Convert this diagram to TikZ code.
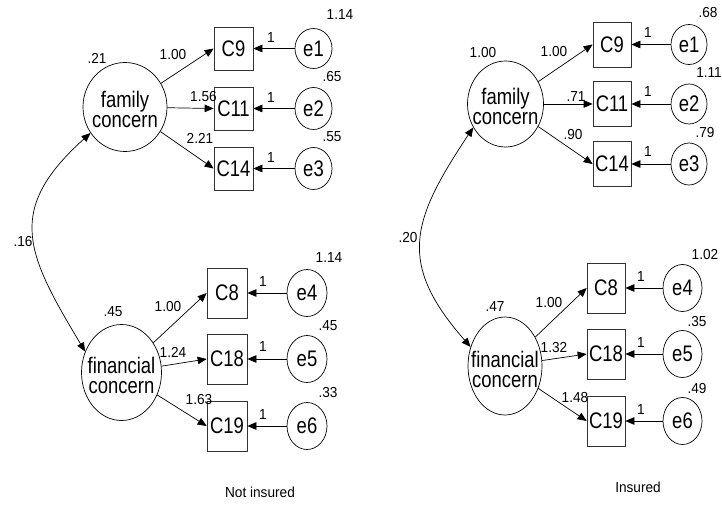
\documentclass[tikz,border=0pt]{standalone}
\usepackage{fontspec}
\setmainfont{Liberation Sans}
\newfontfamily\nodefont{Liberation Sans}[FakeStretch=0.82]
\newfontfamily\labfont{Liberation Sans}[FakeStretch=0.94]
\usetikzlibrary{shapes.geometric,arrows.meta}
\tikzset{
  lw/.style={line width=0.7pt},
  lat/.style={draw, ellipse, inner sep=0pt, lw},
  ltxt/.style={font=\nodefont\fontsize{22.5}{20}\selectfont, align=center, inner sep=0pt},
  obs/.style={draw=black!80, rectangle, inner sep=0pt, lw, minimum width=39pt, font=\nodefont\fontsize{22.5}{20}\selectfont},
  err/.style={draw, ellipse, inner sep=0pt, lw, font=\nodefont\fontsize{22.5}{20}\selectfont},
  lab/.style={inner sep=0pt, font=\labfont\fontsize{14.5}{16}\selectfont},
  tip/.tip={Triangle[length=9pt,width=7.5pt]},
  arr/.style={-tip, lw},
  cov/.style={tip-tip, lw}
}
\begin{document}
\begin{tikzpicture}[x=1pt,y=-1pt]
\useasboundingbox (0,0) rectangle (722,504);

% ---------------- Left panel: Not insured ----------------
\node[lat, minimum width=84pt, minimum height=89pt,
      label={[ltxt,name=famLt,yshift=-2pt]center:family\\concern}] (famL) at (125,107) {};
\node[lat, minimum width=80pt, minimum height=96pt,
      label={[ltxt,name=finLt,yshift=-3pt]center:financial\\concern}] (finL) at (121.5,372.5) {};

\node[obs, minimum height=43pt] (C9L)  at (233.5,48.5) {C9};
\node[obs, minimum height=43pt] (C11L) at (233.5,108.5) {C11};
\node[obs, minimum height=43pt] (C14L) at (233.5,168.5) {C14};
\node[err, minimum width=37pt, minimum height=40pt] (e1L) at (313.5,48.5) {e1};
\node[err, minimum width=37pt, minimum height=42pt] (e2L) at (313.5,108.5) {e2};
\node[err, minimum width=37pt, minimum height=42pt] (e3L) at (313.5,168.5) {e3};

\node[obs, minimum width=40pt, minimum height=50pt] (C8L)  at (227,293) {C8};
\node[obs, minimum width=40pt, minimum height=50pt] (C18L) at (227,359) {C18};
\node[obs, minimum width=40pt, minimum height=50pt] (C19L) at (227,426) {C19};
\node[err, minimum width=40pt, minimum height=47pt] (e4L) at (307,293) {e4};
\node[err, minimum width=40pt, minimum height=47pt] (e5L) at (307,359) {e5};
\node[err, minimum width=40pt, minimum height=47pt] (e6L) at (307,426) {e6};

\draw[arr] (famL) -- (C9L.west);
\draw[arr] (famL) -- (C11L.west);
\draw[arr] (famL) -- (C14L.west);
\draw[arr] (e1L) -- (C9L);
\draw[arr] (e2L) -- (C11L);
\draw[arr] (e3L) -- (C14L);
\draw[arr] (finL) -- (C8L.west);
\draw[arr] (finL) -- (C18L.west);
\draw[arr] (finL) -- (C19L.west);
\draw[arr] (e4L) -- (C8L);
\draw[arr] (e5L) -- (C18L);
\draw[arr] (e6L) -- (C19L);
\draw[cov] (famL.217) .. controls (5,210) and (26,253) .. (finL.150);

\node[lab] (v1L) at (340,15) {1.14};
\node[lab] (v2L) at (332,77) {.65};
\node[lab] (v3L) at (332,137) {.55};
\node[lab] (vfL) at (97,58) {.21};
\node[lab] (w9L) at (173,55) {1.00};
\node[lab] (w11L) at (203.5,97) {1.56};
\node[lab] (w14L) at (200,138) {2.21};
\node[lab] (o1L) at (271,38) {1};
\node[lab] (o2L) at (271,98) {1};
\node[lab] (o3L) at (271,158) {1};
\node[lab] (cL) at (23,242) {.16};
\node[lab] (v4L) at (329,258) {1.14};
\node[lab] (v5L) at (328,326) {.45};
\node[lab] (v6L) at (328,392) {.33};
\node[lab] (vgL) at (113,312) {.45};
\node[lab] (w8L) at (168,306) {1.00};
\node[lab] (w18L) at (173,352) {1.24};
\node[lab] (w19L) at (199,399) {1.63};
\node[lab] (o4L) at (263,282) {1};
\node[lab] (o5L) at (263,347) {1};
\node[lab] (o6L) at (263,415) {1};
\node[lab] (tL) at (260,492) {Not insured};

% ---------------- Right panel: Insured ----------------
\node[lat, minimum width=76pt, minimum height=86pt,
      label={[ltxt,name=famRt,yshift=-2pt]center:family\\concern}] (famR) at (505.5,104) {};
\node[lat, minimum width=74pt, minimum height=98pt,
      label={[ltxt,name=finRt,yshift=-3pt]center:financial\\concern}] (finR) at (505,366) {};

\node[obs, minimum width=38pt, minimum height=45pt] (C9R)  at (612,44.5) {C9};
\node[obs, minimum width=38pt, minimum height=45pt] (C11R) at (612,104) {C11};
\node[obs, minimum width=38pt, minimum height=45pt] (C14R) at (612,164) {C14};
\node[err, minimum width=36pt, minimum height=40pt] (e1R) at (689,44.5) {e1};
\node[err, minimum width=36pt, minimum height=40pt] (e2R) at (689,104) {e2};
\node[err, minimum width=36pt, minimum height=42pt] (e3R) at (689,164) {e3};

\node[obs, minimum width=38pt, minimum height=50pt] (C8R)  at (606,288) {C8};
\node[obs, minimum width=38pt, minimum height=50pt] (C18R) at (606,354) {C18};
\node[obs, minimum width=38pt, minimum height=50pt] (C19R) at (606,421) {C19};
\node[err, minimum width=39pt, minimum height=47pt] (e4R) at (682.5,288) {e4};
\node[err, minimum width=39pt, minimum height=47pt] (e5R) at (682.5,354) {e5};
\node[err, minimum width=39pt, minimum height=47pt] (e6R) at (682.5,421) {e6};

\draw[arr] (famR) -- (C9R.west);
\draw[arr] (famR) -- (C11R.west);
\draw[arr] (famR) -- (C14R.west);
\draw[arr] (e1R) -- (C9R);
\draw[arr] (e2R) -- (C11R);
\draw[arr] (e3R) -- (C14R);
\draw[arr] (finR) -- (C8R.west);
\draw[arr] (finR) -- (C18R.west);
\draw[arr] (finR) -- (C19R.west);
\draw[arr] (e4R) -- (C8R);
\draw[arr] (e5R) -- (C18R);
\draw[arr] (e6R) -- (C19R);
\draw[cov] (famR.216) .. controls (411,221) and (397,263) .. (finR.151);

\node[lab] (v1R) at (708,13) {.68};
\node[lab] (v2R) at (709,73) {1.11};
\node[lab] (v3R) at (705,133) {.79};
\node[lab] (vfR) at (483,53) {1.00};
\node[lab] (w9R) at (554,52) {1.00};
\node[lab] (w11R) at (576,97) {.71};
\node[lab] (w14R) at (573,135) {.90};
\node[lab] (o1R) at (648,33) {1};
\node[lab] (o2R) at (648,92) {1};
\node[lab] (o3R) at (648,152) {1};
\node[lab] (cR) at (408,238) {.20};
\node[lab] (v4R) at (705,255) {1.02};
\node[lab] (v5R) at (697,322) {.35};
\node[lab] (v6R) at (697,388) {.49};
\node[lab] (vgR) at (495,307) {.47};
\node[lab] (w8R) at (549,303) {1.00};
\node[lab] (w18R) at (554,347) {1.32};
\node[lab] (w19R) at (575,397) {1.48};
\node[lab] (o4R) at (641,277) {1};
\node[lab] (o5R) at (641,343) {1};
\node[lab] (o6R) at (641,410) {1};
\node[lab] (tR) at (638,487) {Insured};
\end{tikzpicture}
\end{document}
